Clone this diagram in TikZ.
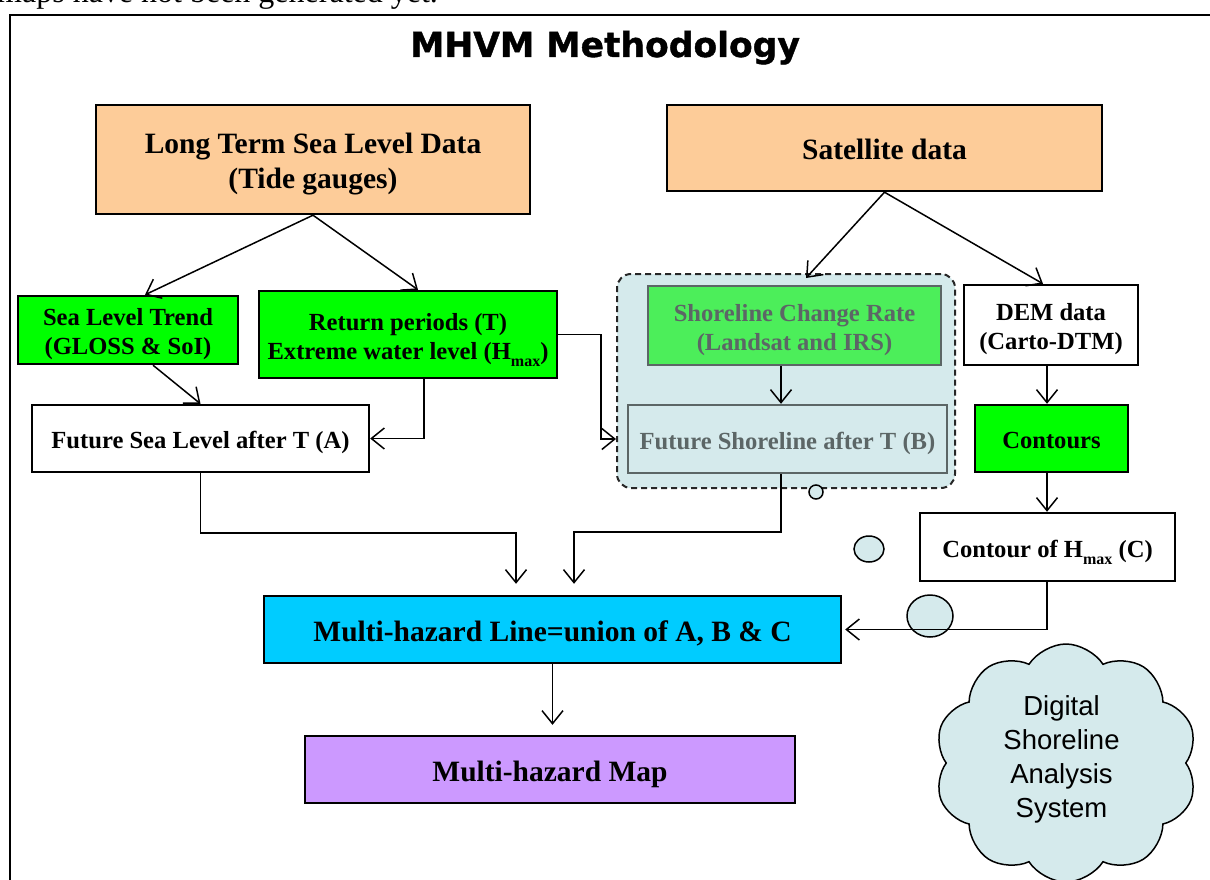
\documentclass[tikz,border=0pt]{standalone}
\usepackage{fontspec}
\setmainfont{Liberation Serif}
\newfontfamily\titlefont[FakeBold=1.2]{DejaVu Sans Bold}
\newfontfamily\cloudfont{Liberation Sans}
\usetikzlibrary{arrows.meta,shapes.symbols,shapes.geometric,calc}
\definecolor{peach}{RGB}{253,204,153}
\definecolor{lgreen}{RGB}{0,255,0}
\definecolor{mgreen}{RGB}{76,238,90}
\definecolor{pale}{RGB}{213,234,236}
\definecolor{grayt}{RGB}{92,102,102}
\definecolor{cyanb}{RGB}{0,204,255}
\definecolor{lilac}{RGB}{204,153,255}
\newcommand{\Hmx}{H\raisebox{-0.3em}{\fontsize{16}{16}\selectfont max}}
\newcommand{\tb}[1]{\raisebox{0pt}[\dimexpr\height+9pt\relax][\depth]{\begin{tabular}{@{}c@{}}#1\end{tabular}}}
\newcommand{\cltx}[1]{\hspace*{-9pt}\raisebox{0pt}[\height][\dimexpr\depth+6pt\relax]{\begin{tabular}{@{}c@{}}#1\end{tabular}}}
\begin{document}
\begin{tikzpicture}[x=1pt,y=-1pt,
 box/.style={draw=black, line width=2.4pt, rectangle, inner sep=0pt, font=\bfseries\fontsize{24.6}{29}\selectfont},
 bigbox/.style={box, font=\bfseries\fontsize{29.5}{35}\selectfont},
 graybox/.style={box, draw=grayt, text=grayt},
 arr/.style={line width=1.5pt, -{Straight Barb[length=13pt,width=21pt]}},
 bub/.style={draw=black, line width=1.5pt, fill=pale, ellipse, inner sep=0pt}]
\useasboundingbox (0,0) rectangle (1210,880);
\begin{scope}
\clip (0,0) rectangle (1210,880);
\node[anchor=base west, inner sep=0pt, font=\fontsize{32}{36}\selectfont] (prev) at (-3,3) {maps have not been generated yet.};
\draw[line width=2.5pt] (10,15) rectangle (1240,910);
\end{scope}
\node[font=\titlefont\fontsize{34.5}{40}\selectfont, anchor=base] (title) at (605,57) {MHVM Methodology};
% container
\node[draw=black!85, dash pattern=on 6pt off 4pt, line width=2pt, rounded corners=14pt, fill=pale, minimum width=338pt, minimum height=214pt] (cont) at (786,381) {};
% boxes
\node[bigbox, fill=peach, minimum width=434pt, minimum height=109pt] (lt) at (313,159.5) {\tb{Long Term Sea Level Data\\(Tide gauges)}};
\node[bigbox, fill=peach, minimum width=435pt, minimum height=86pt] (sat) at (884.5,148) {\tb{Satellite data}};
\node[box, fill=lgreen, minimum width=220pt, minimum height=68pt] (slt) at (128,330) {\tb{Sea Level Trend\\(GLOSS \& SoI)}};
\node[box, fill=lgreen, minimum width=298pt, minimum height=87pt] (rp) at (408,334.5) {\tb{Return periods (T)\\Extreme water level (\Hmx)}};
\node[box, fill=white, minimum width=337pt, minimum height=67pt] (fsl) at (200.5,438.5) {\tb{Future Sea Level after T (A)}};
\node[graybox, fill=mgreen, minimum width=293pt, minimum height=79pt] (scr) at (794.5,325.5) {\tb{Shoreline Change Rate\\(Landsat and IRS)}};
\node[graybox, fill=pale, minimum width=319pt, minimum height=68pt] (fsh) at (787.5,439) {\tb{Future Shoreline after T (B)}};
\node[box, fill=white, minimum width=174pt, minimum height=80pt] (dem) at (1051,325) {\tb{DEM data\\(Carto-DTM)}};
\node[box, fill=lgreen, minimum width=153pt, minimum height=67pt] (ctr) at (1051.5,438.5) {\tb{Contours}};
\node[box, fill=white, minimum width=255pt, minimum height=68pt] (cc) at (1047.5,547) {\tb{Contour of \Hmx{} (C)}};
\node[bigbox, fill=cyanb, minimum width=577pt, minimum height=67pt] (mhl) at (552.5,629.5) {\tb{Multi-hazard Line=union of A, B \& C}};
\node[bigbox, fill=lilac, minimum width=490pt, minimum height=67pt] (mhm) at (550,769.5) {\tb{Multi-hazard Map}};
% bubbles and cloud
\node[bub, minimum width=14pt, minimum height=14pt] (b1) at (816,492) {};
\node[bub, minimum width=30pt, minimum height=26pt] (b2) at (869,549) {};
\node[bub, minimum width=46pt, minimum height=42pt] (b3) at (930,616) {};
\node[cloud, cloud puffs=10, cloud puff arc=115, cloud ignores aspect, draw=black, line width=1.5pt, fill=pale, minimum width=263pt, minimum height=238pt, font=\cloudfont\fontsize{27.5}{34}\selectfont] (dsas) at (1066,763) {\cltx{Digital\\Shoreline\\Analysis\\System}};
% connectors
\coordinate (kx) at (601,0);
\coordinate (xb) at (781,0);
\coordinate (xd) at (1047,0);
\coordinate (ja) at (516,533);
\coordinate (jb) at (574,532);
\draw[arr] (lt.south) -- ([xshift=17pt]slt.north);
\draw[arr] (lt.south) -- ([xshift=10pt]rp.north);
\draw[arr] ([xshift=25pt]slt.south) -- (fsl.north);
\draw[arr] ([xshift=16pt]rp.south) |- (fsl.east);
\draw[arr] (rp.east) -| (kx |- fsh.west) -- (cont.west |- fsh.west);
\draw[arr] (sat.south) -- ([xshift=20pt,yshift=-5pt]cont.north);
\draw[arr] (sat.south) -- ([xshift=-8pt]dem.north);
\draw[arr] (xb |- scr.south) -- (xb |- fsh.north);
\draw[arr] (xd |- dem.south) -- (xd |- ctr.north);
\draw[arr] (xd |- ctr.south) -- (xd |- cc.north);
\draw[arr, shorten >=3pt] (xd |- cc.south) |- (mhl.east);
\draw[arr, shorten >=11pt] (fsl.south) |- (ja) -- (ja |- mhl.north);
\draw[arr, shorten >=11pt] (xb |- fsh.south) |- (jb) -- (jb |- mhl.north);
\draw[arr, shorten >=10pt] (mhl.south) -- (mhl.south |- mhm.north);
\end{tikzpicture}
\end{document}
